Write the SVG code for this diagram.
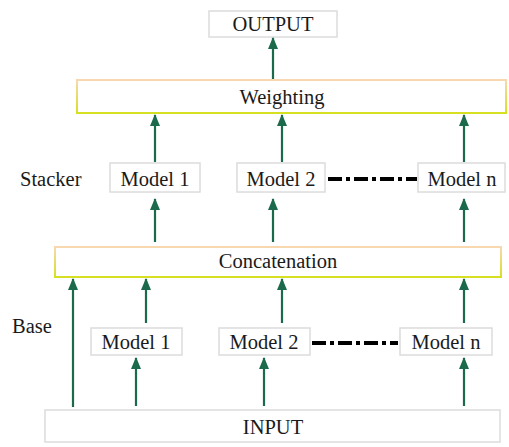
<svg xmlns="http://www.w3.org/2000/svg" width="509" height="447" viewBox="0 0 509 447">
<style>
text{font-size:20.5px;fill:#1a1a1a;text-anchor:middle}
.lbl{text-anchor:start}
.box{fill:#fff;stroke:#dcdcdc;stroke-width:1.5}
.ybox{fill:#fff;stroke:url(#yg);stroke-width:2}
.arr{stroke:#1b6a4c;stroke-width:2.2;fill:none;marker-end:url(#ah)}
.dd{stroke:#000;stroke-width:4;stroke-dasharray:14 4 4 4;fill:none}
</style>
<defs>
<linearGradient id="yg" x1="0" y1="0" x2="0" y2="1">
<stop offset="0" stop-color="#f8d8b0"/>
<stop offset="1" stop-color="#d6e020"/>
</linearGradient>
<marker id="ah" markerWidth="12" markerHeight="10" refX="11" refY="5" orient="auto" markerUnits="userSpaceOnUse" viewBox="0 0 12 10">
<path d="M0,0 L12,5 L0,10 Z" fill="#1b6a4c"/>
</marker>
</defs>
<rect width="509" height="447" fill="#fff"/>
<g id="labels">
<text class="lbl" x="20" y="186" font-family="Liberation Serif">Stacker</text>
<text class="lbl" x="12" y="333" font-family="Liberation Serif">Base</text>
</g>
<g id="output"><rect class="box" x="209" y="11" width="128" height="26"/><text x="273" y="31" font-family="Liberation Serif">OUTPUT</text></g>
<g id="weighting"><rect class="ybox" x="77" y="80" width="429" height="33"/><text x="282" y="104" font-family="Liberation Serif">Weighting</text></g>
<g id="stk1"><rect class="box" x="110" y="163" width="90" height="29"/><text x="155" y="186" font-family="Liberation Serif">Model 1</text></g>
<g id="stk2"><rect class="box" x="237" y="163" width="88" height="29"/><text x="281" y="186" font-family="Liberation Serif">Model 2</text></g>
<g id="stkn"><rect class="box" x="418" y="163" width="87" height="29"/><text x="462" y="186" font-family="Liberation Serif">Model n</text></g>
<g id="concat"><rect class="ybox" x="55" y="247" width="446" height="30"/><text x="278" y="268" font-family="Liberation Serif">Concatenation</text></g>
<g id="base1"><rect class="box" x="91" y="328" width="91" height="27"/><text x="136" y="349" font-family="Liberation Serif">Model 1</text></g>
<g id="base2"><rect class="box" x="219" y="328" width="91" height="27"/><text x="264" y="349" font-family="Liberation Serif">Model 2</text></g>
<g id="basen"><rect class="box" x="400" y="328" width="92" height="27"/><text x="446" y="349" font-family="Liberation Serif">Model n</text></g>
<g id="input"><rect class="box" x="45" y="410" width="455" height="32"/><text x="273" y="434" font-family="Liberation Serif">INPUT</text></g>
<g id="connectors">
<path class="arr" d="M273,79 V38"/>
<path class="arr" d="M155,162 V115"/>
<path class="arr" d="M282,162 V115"/>
<path class="arr" d="M464,162 V115"/>
<path class="arr" d="M155,242 V199"/>
<path class="arr" d="M273,242 V199"/>
<path class="arr" d="M464,242 V199"/>
<path class="arr" d="M73,407 V279"/>
<path class="arr" d="M146,323 V279"/>
<path class="arr" d="M282,323 V279"/>
<path class="arr" d="M464,323 V279"/>
<path class="arr" d="M136,406 V358"/>
<path class="arr" d="M264,406 V358"/>
<path class="arr" d="M464,406 V358"/>
<path class="dd" d="M328,179 H417"/>
<path class="dd" d="M312,343 H398"/>
</g>
</svg>
